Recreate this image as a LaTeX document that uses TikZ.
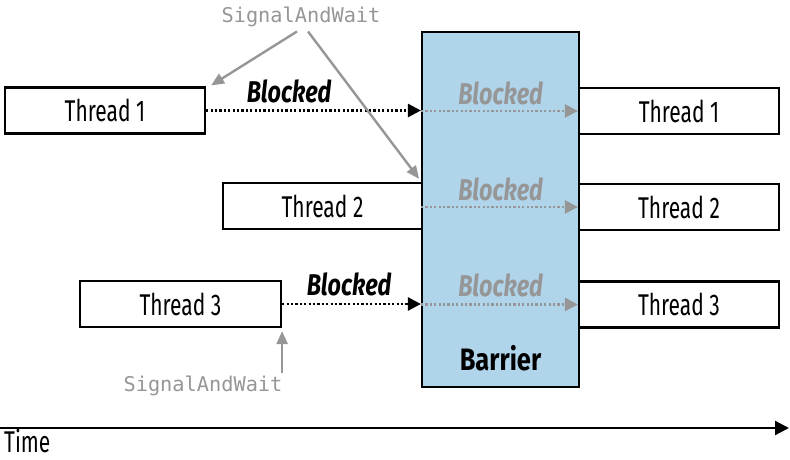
\documentclass[tikz,border=0pt]{standalone}
\usepackage{fontspec}
\setmainfont[FakeStretch=0.70,BoldFeatures={FakeStretch=0.82},BoldItalicFeatures={FakeStretch=0.78}]{Fira Sans}
\setmonofont{DejaVu Sans Mono}
\usetikzlibrary{arrows.meta}
\definecolor{barfill}{RGB}{176,212,234}
\definecolor{sgray}{RGB}{150,150,150}
\tikzset{
  tbox/.style={draw=black,line width=2.2pt,fill=white,minimum width=200pt,minimum height=46pt,inner sep=0pt,
    font=\fontsize{30}{32}\selectfont},
  blk/.style={font=\fontsize{30}{32}\selectfont\bfseries\itshape},
  gblk/.style={blk,text=sgray},
  swlab/.style={font=\fontsize{20.3}{22}\ttfamily,text=sgray},
  blkarrow/.style={dash pattern=on 2.2pt off 2.2pt,line width=2.6pt,-{Triangle[length=13pt,width=13pt]}},
  garrow/.style={dash pattern=on 2.2pt off 2.2pt,line width=2.6pt,draw=sgray,-{Triangle[length=13pt,width=13pt,fill=sgray]}},
  sarrow/.style={line width=2.4pt,draw=sgray,-{Triangle[length=13pt,width=11pt,fill=sgray]}},
}
\begin{document}
\begin{tikzpicture}[x=1pt,y=-1pt]
\useasboundingbox (0,0) rectangle (790,460);
% barrier
\node[draw=black,line width=2.2pt,fill=barfill,minimum width=157pt,minimum height=355pt,inner sep=0pt] (bar) at (500.5,209.5) {};
\node[font=\fontsize{31}{32}\selectfont\bfseries] (barlab) at (500.5,358) {Barrier};
% left threads
\node[tbox] (t1l) at (105,110.5) {Thread 1};
\node[tbox,minimum width=199pt] (t2l) at (322.5,206) {Thread 2};
\node[tbox,minimum width=201pt] (t3l) at (180.5,304) {Thread 3};
% right threads
\node[tbox] (t1r) at (679,111) {Thread 1};
\node[tbox] (t2r) at (679,207) {Thread 2};
\node[tbox] (t3r) at (679,304.5) {Thread 3};
% black dotted arrows
\draw[blkarrow] (t1l.east) -- (t1l.east -| bar.west);
\draw[blkarrow] (t3l.east) -- (t3l.east -| bar.west);
\node[blk] (b1) at (289,91) {Blocked};
\node[blk] (b3) at (349,284) {Blocked};
% gray dotted arrows within barrier
\draw[garrow] (t1r.west -| bar.west) -- (t1r.west);
\draw[garrow] (t2r.west -| bar.west) -- (t2r.west);
\draw[garrow] (t3r.west -| bar.west) -- (t3r.west);
\node[gblk] (g1) at (500.5,93) {Blocked};
\node[gblk] (g2) at (500.5,189) {Blocked};
\node[gblk] (g3) at (500.5,285) {Blocked};
% SignalAndWait labels
\node[swlab] (sw1) at (301,17) {SignalAndWait};
\node[swlab] (sw2) at (203,386) {SignalAndWait};
\draw[sarrow] ([xshift=-4pt,yshift=-1pt]sw1.south) -- ([xshift=5pt,yshift=1pt]t1l.north east);
\draw[sarrow] ([xshift=7pt,yshift=-1pt]sw1.south) -- ([xshift=-4pt,yshift=3pt]t2l.north east);
\draw[sarrow] (t3l.south east |- sw2.north) -- ([yshift=-3pt]t3l.south east);
% time axis
\coordinate (ta) at (0,428);
\coordinate (tb) at (789,428);
\draw[line width=2.2pt,-{Triangle[length=14pt,width=14pt]}] (ta) -- (tb);
\node[anchor=west,inner sep=0pt,font=\fontsize{30}{32}\selectfont] (time) at (4,441) {Time};
\end{tikzpicture}
\end{document}
